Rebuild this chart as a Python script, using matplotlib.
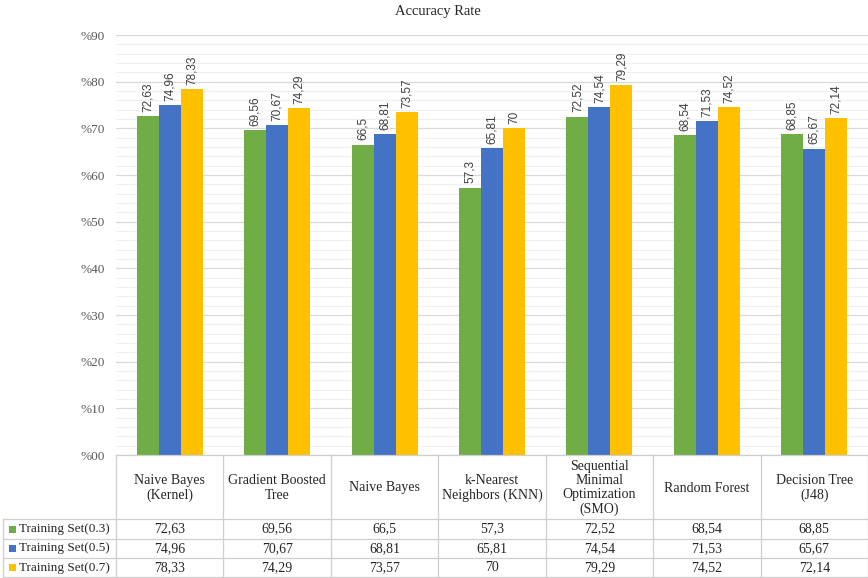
import matplotlib
matplotlib.use("Agg")
import matplotlib.pyplot as plt
from matplotlib.ticker import MultipleLocator, FuncFormatter

# ---- data ----
categories = [
    "Naive Bayes\n(Kernel)",
    "Gradient Boosted\nTree",
    "Naive Bayes",
    "k-Nearest\nNeighbors (KNN)",
    "Sequential\nMinimal\nOptimization\n(SMO)",
    "Random Forest",
    "Decision Tree\n(J48)",
]
series_names = ["Training Set(0.3)", "Training Set(0.5)", "Training Set(0.7)"]
set_03 = [72.63, 69.56, 66.5, 57.3, 72.52, 68.54, 68.85]
set_05 = [74.96, 70.67, 68.81, 65.81, 74.54, 71.53, 65.67]
set_07 = [78.33, 74.29, 73.57, 70, 79.29, 74.52, 72.14]
series = [set_03, set_05, set_07]
colors = ["#70AD47", "#4472C4", "#FFC000"]
y_ticks = [0, 10, 20, 30, 40, 50, 60, 70, 80, 90]

W, H = 868, 578
SERIF = "Liberation Serif"
SANS = "Liberation Sans"
TXT = "#262626"


def fmt(v):
    return f"{v:g}".replace(".", ",")


fig = plt.figure(figsize=(W / 100, H / 100), dpi=100)
fig.patch.set_facecolor("white")

# plot area in pixels
left, right, top, bottom = 116, 868, 35, 455
ax = fig.add_axes([left / W, (H - bottom) / H, (right - left) / W, (bottom - top) / H])
n = len(categories)
ax.set_xlim(0, n)
ax.set_ylim(0, 90)
ax.set_yticks(y_ticks)
ax.yaxis.set_minor_locator(MultipleLocator(2))
ax.yaxis.set_major_formatter(FuncFormatter(lambda v, p: "%" + f"{int(v):02d}"))
ax.grid(axis="y", which="major", color="#D9D9D9", linewidth=0.9, zorder=0)
ax.grid(axis="y", which="minor", color="#F0F0F0", linewidth=0.8, zorder=0)
ax.set_xticks([])
for s in ax.spines.values():
    s.set_visible(False)
ax.tick_params(axis="y", which="both", length=0, pad=8, labelsize=9.5,
               labelcolor="#595959")
for lab in ax.get_yticklabels():
    lab.set_fontfamily(SERIF)

bw = 0.205
for k, vals in enumerate(series):
    xs = [i + 0.5 + (k - 1) * bw for i in range(n)]
    bars = ax.bar(xs, vals, width=bw, color=colors[k], zorder=3, linewidth=0)
    for b, v in zip(bars, vals):
        ax.annotate(fmt(v), (b.get_x() + b.get_width() / 2, v),
                    xytext=(0, 3), textcoords="offset points",
                    rotation=90, ha="center", va="bottom",
                    fontsize=8.5, color="#404040", family=SANS)

fig.text(0.504, 1 - 12 / H, "Accuracy Rate", ha="center", va="center",
         fontsize=10.5, family=SERIF, color=TXT)

# ---- data table below the chart (pixel coordinates) ----
tx = fig.add_axes([0, 0, 1, 1])
tx.set_xlim(0, W)
tx.set_ylim(H, 0)
tx.axis("off")
tx.patch.set_alpha(0)

lc = "#CFCFCF"
cw = (right - left) / n
header_bot = 519
row_edges = [header_bot, 539, 558, 577]
leg_left = 3

# horizontal lines
tx.plot([left, right], [bottom, bottom], color=lc, lw=0.9)
for y in row_edges:
    tx.plot([leg_left, right], [y, y], color=lc, lw=0.9)
# vertical lines
for i in range(n + 1):
    x = left + i * cw
    tx.plot([x, x], [bottom, row_edges[-1]], color=lc, lw=0.9)
tx.plot([leg_left, leg_left], [header_bot, row_edges[-1]], color=lc, lw=0.9)

# header cells
for i, name in enumerate(categories):
    tx.text(left + (i + 0.5) * cw, (bottom + header_bot) / 2 + 1, name,
            ha="center", va="center", fontsize=10, family=SERIF,
            color=TXT, linespacing=1.12)

# value rows with legend keys
for r, (label, vals) in enumerate(zip(series_names, series)):
    yc = (row_edges[r] + row_edges[r + 1]) / 2
    tx.add_patch(plt.Rectangle((8.5, yc - 3.5), 7, 7, color=colors[r], lw=0))
    tx.text(19, yc, label, ha="left", va="center", fontsize=9.5,
            family=SERIF, color=TXT)
    for i, v in enumerate(vals):
        tx.text(left + (i + 0.5) * cw, yc, fmt(v), ha="center", va="center",
                fontsize=10, family=SERIF, color=TXT)

fig.savefig("out.png", dpi=100, facecolor="white")
